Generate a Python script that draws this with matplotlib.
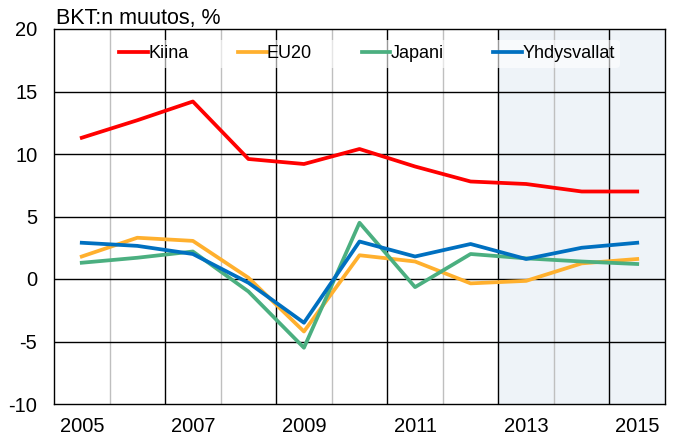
import numpy as np
import matplotlib
matplotlib.use("Agg")
from matplotlib import pyplot as plt

plt.rcParams['font.family'] = ['Liberation Sans', 'DejaVu Sans']
plt.rcParams['axes.unicode_minus'] = False

years = [2005, 2006, 2007, 2008, 2009, 2010, 2011, 2012, 2013, 2014, 2015]
kiina = [11.3, 12.7, 14.2, 9.6, 9.2, 10.4, 9.0, 7.8, 7.6, 7.0, 7.0]
eu20 = [1.8, 3.3, 3.05, 0.1, -4.2, 1.9, 1.4, -0.35, -0.15, 1.25, 1.6]
japani = [1.3, 1.7, 2.2, -1.0, -5.5, 4.5, -0.65, 2.0, 1.65, 1.4, 1.2]
usa = [2.9, 2.65, 2.0, -0.3, -3.5, 3.0, 1.8, 2.8, 1.6, 2.5, 2.9]
forecast_from = 2013

series = [("Kiina", kiina, "#FF0000"),
          ("EU20", eu20, "#FFB02E"),
          ("Japani", japani, "#4BAF80"),
          ("Yhdysvallat", usa, "#0070C0")]

fig = plt.figure(figsize=(6.88, 4.47), dpi=100)
ax = fig.add_axes([54/688, 43/447, 611/688, 375/447])

x = np.arange(len(years))
# forecast shading
ax.axvspan(years.index(forecast_from) - 0.5, len(years) - 0.5, color="#EEF3F8", zorder=0)

# grid: black on even boundaries, grey on odd
for k in range(1, len(years)):
    col = "black" if k % 2 == 0 else "#BFBFBF"
    ax.axvline(k - 0.5, color=col, lw=1, zorder=1)
for yv in range(-5, 20, 5):
    ax.axhline(yv, color="black", lw=1, zorder=1)

for name, vals, col in series:
    ax.plot(x, vals, color=col, lw=2.7, label=name, zorder=3)

ax.set_xlim(-0.5, len(years) - 0.5)
ax.set_ylim(-10, 20)
ax.set_yticks(range(-10, 21, 5))
ax.set_xticks(x[::2])
ax.set_xticklabels([str(y) for y in years[::2]])
ax.tick_params(axis="both", length=0, labelsize=14.5)
ax.tick_params(axis="x", pad=9)
ax.tick_params(axis="y", pad=12)
for s in ax.spines.values():
    s.set_color("black")
    s.set_linewidth(1)

leg = ax.legend(loc="center", ncol=4, fontsize=13, frameon=True,
                handlelength=1.6, handletextpad=0.0, columnspacing=2.75,
                bbox_to_anchor=(0.512, 0.934), borderpad=0.3)
leg.get_frame().set_facecolor("white")
leg.get_frame().set_alpha(0.6)
leg.get_frame().set_edgecolor("none")
leg.set_zorder(2)

ax.text(0.004, 1.0, "BKT:n muutos, %", transform=ax.transAxes, fontsize=15.5,
        va="bottom", ha="left")

plt.savefig("out.png", dpi=100)
